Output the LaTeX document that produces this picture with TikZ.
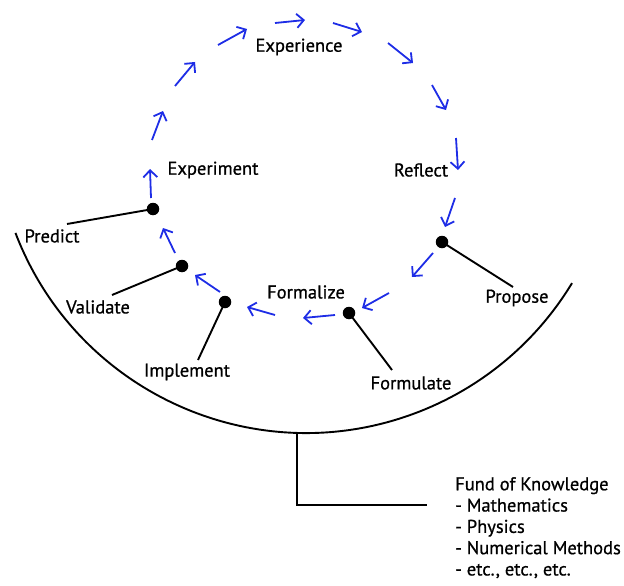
\documentclass[tikz,border=0pt]{standalone}
\usepackage{fontspec}
\setmainfont{PT Sans}
\newfontfamily\lblfont{PT Sans}[FakeBold=0.8]
\usetikzlibrary{arrows.meta}
\definecolor{arrblue}{RGB}{30,45,230}
\tikzset{
  lbl/.style={font=\lblfont\fontsize{18.5}{21.3}\selectfont, text=black, inner sep=0pt},
  dotnode/.style={circle, fill=black, minimum size=12.5pt, inner sep=0pt},
  stick/.style={black, line width=1.9pt},
  flow/.style={arrblue, line width=1.8pt, -{Straight Barb[length=7pt,width=14pt,line width=1.8pt]}},
}
\begin{document}
\begin{tikzpicture}[x=1pt,y=-1pt]
\useasboundingbox (0,0) rectangle (624,586);
% labels
\node[lbl] (experience) at (299,47) {Experience};
\node[lbl] (experiment) at (213,170) {Experiment};
\node[lbl] (reflect) at (421,170) {Reflect};
\node[lbl] (predict) at (52,236) {Predict};
\node[lbl] (validate) at (98,307) {Validate};
\node[lbl] (implement) at (187,372) {Implement};
\node[lbl] (formalize) at (306,292) {Formalize};
\node[lbl] (formulate) at (411,383) {Formulate};
\node[lbl] (propose) at (517,298) {Propose};
\node[lbl, anchor=north west, align=left] (fund) at (455,477)
  {Fund of Knowledge\\- Mathematics\\- Physics\\- Numerical Methods\\- etc., etc., etc.};
% dots
\node[dotnode] (dp) at (153,209) {};
\node[dotnode] (dv) at (182,266) {};
\node[dotnode] (di) at (225,302) {};
\node[dotnode] (df) at (349,313) {};
\node[dotnode] (dr) at (442,242) {};
% stick ends
\coordinate (ep) at (67,224);
\coordinate (ev) at (112,295);
\coordinate (ei) at (198,360);
\coordinate (ef) at (392,370);
\coordinate (er) at (513,287);
\draw[stick] (dp.center) -- (ep);
\draw[stick] (dv.center) -- (ev);
\draw[stick] (di.center) -- (ei);
\draw[stick] (df.center) -- (ef);
\draw[stick] (dr.center) -- (er);
% big arc
\coordinate (ctr) at (306,122);
\draw[stick] (ctr) ++(159.1:311) arc[start angle=159.1, end angle=31.2, radius=311];
\coordinate (stemtop) at (297,433);
\coordinate (stembot) at (297,505);
\coordinate (stemend) at (427,505);
\draw[stick] (stemtop) -- (stembot) -- (stemend);
% blue arrows
\foreach \ax/\ay/\bx/\by [count=\i] in {
  151/198/150/169, 152/140/163/111, 175/86/195/62, 218/45/247/29,
  275/23/305/20, 333/23/362/32, 388/43/413/63, 432/85/446/110,
  456/138/458/170, 455/198/445/227, 433/253/412/277, 389/293/362/308,
  335/315/303/318, 275/315/247/307, 220/292/195/275, 175/253/163/228} {
  \coordinate (a\i) at (\ax,\ay);
  \coordinate (b\i) at (\bx,\by);
  \draw[flow] (a\i) -- (b\i);
}
\end{tikzpicture}
\end{document}
